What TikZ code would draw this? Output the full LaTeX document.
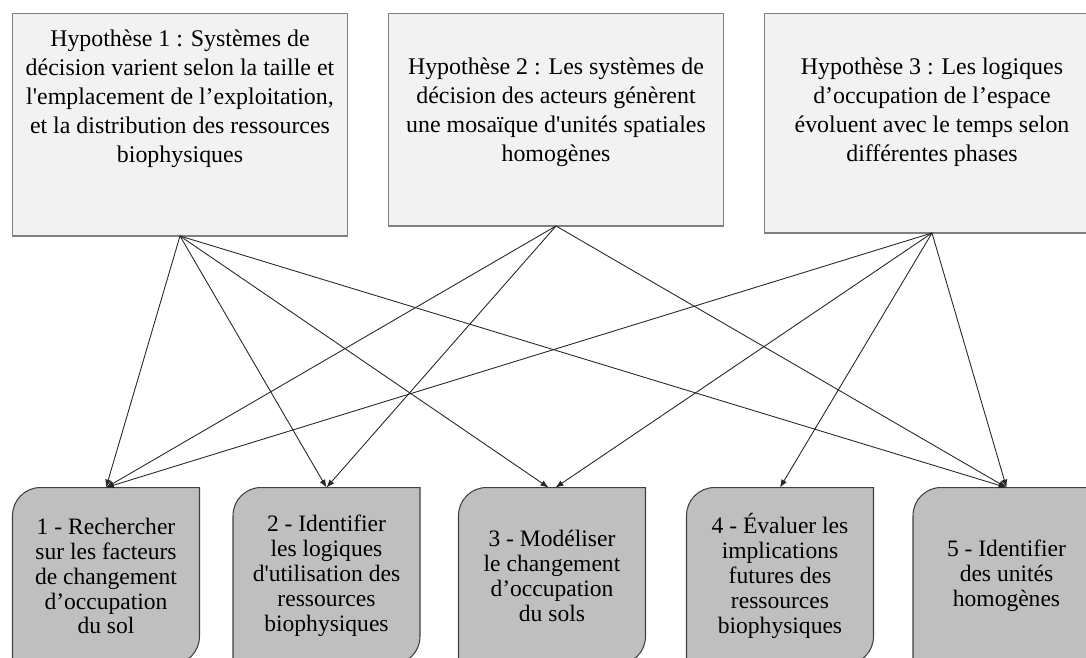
\documentclass[tikz,border=0pt]{standalone}
\usepackage{fontspec}
\setmainfont{Liberation Serif}
\usepackage{xcolor}
\usetikzlibrary{arrows.meta,backgrounds}
\definecolor{hypfill}{HTML}{F2F2F2}
\definecolor{hypline}{HTML}{7F7F7F}
\definecolor{objfill}{HTML}{BFBFBF}
\definecolor{objline}{HTML}{404040}
\newcommand{\aps}{\textquotesingle}

\begin{document}
\begin{tikzpicture}[x=0.02cm,y=-0.02cm,
  hyp/.style={draw=hypline,fill=hypfill,line width=0.6pt,minimum width=6.72cm,inner sep=0pt,outer sep=0pt},
  hyptxt/.style={align=center,font=\fontsize{13.6}{16.5}\selectfont,inner sep=0pt},
  obj/.style={minimum width=3.74cm,minimum height=3.54cm,align=center,inner sep=0pt,outer sep=0pt,font=\fontsize{13.4}{14.2}\selectfont},
  objshape/.style={draw=objline,fill=objfill,line width=0.6pt},
  arr/.style={-{Latex[length=4.5pt,width=3.5pt]},line width=0.5pt,draw=black!85}]

\useasboundingbox (0,0) rectangle (1086,657);
\clip (0,0) rectangle (1086,657);

  % hypotheses
  \node[hyp,minimum height=4.46cm] (h1) at (180,124.5) {};
  \node[hyp,minimum height=4.26cm] (h2) at (556,119.5) {};
  \node[hyp,minimum height=4.40cm] (h3) at (932,123) {};
  \node[hyptxt] (h1t) at (180,99) {Hypothèse 1 : Systèmes de\\décision varient selon la taille et\\l\aps emplacement de l’exploitation,\\et la distribution des ressources\\biophysiques};
  \node[hyptxt] (h2t) at (556,112) {Hypothèse 2 : Les systèmes de\\décision des acteurs génèrent\\une mosaïque d\aps unités spatiales\\homogènes};
  \node[hyptxt] (h3t) at (932,112) {Hypothèse 3 : Les logiques\\d’occupation de l’espace\\évoluent avec le temps selon\\différentes phases};

  % objectifs
  \node[obj] (b1) at (106,576) {1 - Rechercher\\sur les facteurs\\de changement\\d’occupation\\du sol};
  \node[obj] (b2) at (326.5,576) {2 - Identifier\\les logiques\\d\aps utilisation des\\ressources\\biophysiques};
  \node[obj] (b3) at (552,576) {3 - Modéliser\\le changement\\d’occupation\\du sols};
  \node[obj] (b4) at (780,576) {4 - Évaluer les\\implications\\futures des\\ressources\\biophysiques};
  \node[obj] (b5) at (1006.5,576) {5 - Identifier\\des unités\\homogènes};

  \begin{scope}[on background layer]
  \clip (0,0) rectangle (1086,657);
  \foreach \n in {b1,b2,b3,b4,b5}
    \draw[objshape] (\n.north east) -- ([xshift=0.56cm]\n.north west) arc[start angle=90,end angle=180,radius=0.56cm]
      -- (\n.south west) -- ([xshift=-0.56cm]\n.south east) arc[start angle=270,end angle=360,radius=0.56cm] -- cycle;
  \end{scope}

  \draw[arr] (h1.south) -- (b1.north);
  \draw[arr] (h1.south) -- (b2.north);
  \draw[arr] (h1.south) -- ([xshift=-2pt]b3.north);
  \draw[arr] (h1.south) -- (b5.north);
  \draw[arr] (h2.south) -- (b1.north);
  \draw[arr] (h2.south) -- (b2.north);
  \draw[arr] (h2.south) -- (b5.north);
  \draw[arr] (h3.south) -- (b1.north);
  \draw[arr] (h3.south) -- ([xshift=2pt]b3.north);
  \draw[arr] (h3.south) -- (b4.north);
  \draw[arr] (h3.south) -- (b5.north);
\end{tikzpicture}
\end{document}
